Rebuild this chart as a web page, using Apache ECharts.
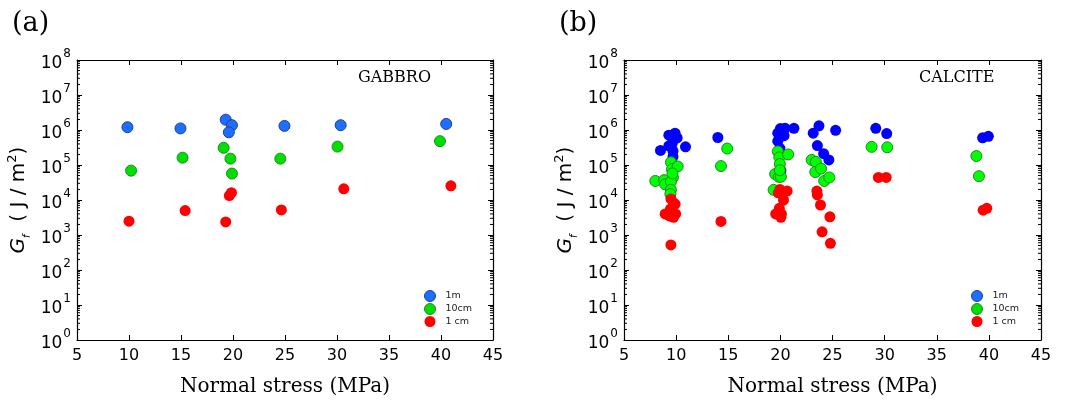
<!DOCTYPE html>
<html><head><meta charset="utf-8">
<script src="https://cdn.jsdelivr.net/npm/echarts@6/dist/echarts.min.js"></script>
<style>html,body{margin:0;padding:0;background:#fff}#c{width:1070px;height:402px}</style>
</head><body><div id="c"></div>
<script>
// ---------- data ----------
const xTicks = [5, 10, 15, 20, 25, 30, 35, 40, 45];
const yTickExponents = [0, 1, 2, 3, 4, 5, 6, 7, 8];
const seriesNames = ['1m', '10cm', '1 cm'];
const panelLabels = ['(a)', '(b)'];
const rockNames = ['GABBRO', 'CALCITE'];
const xAxisTitle = 'Normal stress (MPa)';

// GABBRO [normal stress MPa, Gf J/m2]
const gabbro1m = [[9.85,1.2e6],[14.95,1.11e6],[19.3,1.97e6],[19.9,1.37e6],[19.6,8.6e5],[24.95,1.31e6],[30.35,1.37e6],[40.5,1.49e6]];
const gabbro10cm = [[10.2,6.9e4],[15.15,1.62e5],[19.1,3.1e5],[19.75,1.52e5],[19.9,5.7e4],[24.55,1.52e5],[30.05,3.36e5],[39.9,4.8e5]];
const gabbro1cm = [[10.0,2.48e3],[15.4,5.0e3],[19.3,2.37e3],[19.65,1.34e4],[19.85,1.62e4],[24.65,5.2e3],[30.65,2.09e4],[40.95,2.54e4]];

// CALCITE
const calcite1m = [[8.5,2.6e5],[9.3,7.1e5],[9.9,8.1e5],[10.1,6.0e5],[9.7,4.8e5],[9.3,3.5e5],[9.7,2.5e5],[9.7,1.74e5],[10.9,3.3e5],[9.6,3.9e5],
  [14.0,6.1e5],
  [19.75,8.1e5],[20.0,1.1e6],[20.45,1.12e6],[21.3,1.12e6],[20.35,6.9e5],[19.75,4.8e5],[19.95,3.0e5],[20.05,7.0e4],
  [23.15,8.1e5],[23.7,1.32e6],[25.3,9.8e5],[23.55,3.6e5],[24.15,2.1e5],[24.65,1.4e5],
  [29.15,1.12e6],[30.2,7.9e5],
  [39.4,6.0e5],[39.95,6.6e5]];
const calcite10cm = [[8.0,3.5e4],[8.85,3.7e4],[8.95,2.8e4],[9.5,1.2e5],[9.6,7.6e4],[9.7,4.4e4],[9.5,3.3e4],[9.5,1.95e4],[9.45,1.48e4],[10.15,9.1e4],[9.65,5.75e4],
  [14.3,9.3e4],[14.9,2.95e5],
  [19.75,2.45e5],[19.9,1.66e5],[19.95,1.07e5],[19.5,5.5e4],[19.85,4.6e4],[20.05,4.6e4],[19.35,1.95e4],[20.75,2.0e5],[19.95,7.1e4],
  [23.0,1.4e5],[23.4,1.23e5],[23.35,6.3e4],[23.9,7.9e4],[24.2,3.5e4],[24.7,4.4e4],
  [28.75,3.3e5],[30.25,3.2e5],
  [38.8,1.8e5],[39.05,4.8e4]];
const calcite1cm = [[9.5,1.07e4],[9.75,8.3e3],[9.9,7.6e3],[8.95,4.0e3],[9.35,3.5e3],[9.75,3.2e3],[9.95,4.0e3],[9.45,5.5e3],[9.5,5.2e2],
  [14.3,2.45e3],
  [19.95,2.0e4],[19.8,1.6e4],[20.65,1.8e4],[20.3,1.0e4],[19.9,5.8e3],[19.55,4.0e3],[20.05,3.2e3],[20.1,4.0e3],
  [23.5,1.8e4],[23.55,1.4e4],[23.85,7.2e3],[24.75,3.3e3],[24.0,1.23e3],[24.8,5.8e2],
  [29.4,4.4e4],[30.15,4.4e4],
  [39.45,5.1e3],[39.8,5.8e3]];

// ---------- styling ----------
const SANS = 'DejaVu Sans';
const SERIF = 'DejaVu Serif';
const X_MIN = xTicks[0], X_MAX = xTicks[xTicks.length - 1];
const Y_MIN = Math.pow(10, yTickExponents[0]), Y_MAX = Math.pow(10, yTickExponents[yTickExponents.length - 1]);

// minor tick positions for the log axes (2..9 x 10^n)
const minorTickValues = [];
for (let i = 0; i < yTickExponents.length - 1; i++) {
  for (let k = 2; k <= 9; k++) minorTickValues.push([X_MIN, k * Math.pow(10, yTickExponents[i])]);
}

const grids = [
  {left: 77, top: 60, width: 416, height: 288},
  {left: 624, top: 60, width: 417, height: 288}
];

const palette = {
  a: [{color: '#1f6fff', borderColor: '#1a3f9a', borderWidth: 1},
      {color: '#00e000', borderColor: '#1f8a1f', borderWidth: 1},
      {color: '#ff0000', borderColor: '#ff0000', borderWidth: 0}],
  b: [{color: '#0000ff', borderColor: '#0000ff', borderWidth: 0},
      {color: '#00ff00', borderColor: '#1f8a1f', borderWidth: 1},
      {color: '#ff0000', borderColor: '#ff0000', borderWidth: 0}]
};
const legendStyle = [{color: '#1f6fff', borderColor: '#1a3f9a', borderWidth: 1},
                     {color: '#00e000', borderColor: '#1f8a1f', borderWidth: 1},
                     {color: '#ff0000', borderColor: '#ff0000', borderWidth: 0}];

function yLabel(v) {
  const e = Math.round(Math.log10(v));
  return '{b|10}{s|' + e + '}';
}
const yRich = {
  b: {fontSize: 17, fontFamily: SANS, color: '#000', lineHeight: 24, verticalAlign: 'bottom'},
  s: {fontSize: 12, fontFamily: SANS, color: '#000', lineHeight: 24, verticalAlign: 'top', padding: [0, 0, 0, 1]}
};
const nameRich = {
  g: {fontSize: 20, fontFamily: SANS, fontStyle: 'italic', color: '#000', lineHeight: 26},
  sub: {fontSize: 10, fontFamily: SANS, fontStyle: 'italic', color: '#000', lineHeight: 26, verticalAlign: 'bottom'},
  n: {fontSize: 20, fontFamily: SANS, color: '#000', lineHeight: 26},
  sup: {fontSize: 13, fontFamily: SANS, color: '#000', lineHeight: 26, verticalAlign: 'top'}
};

const xAxes = [], yAxes = [];
grids.forEach((g, i) => {
  xAxes.push({
    type: 'value', gridIndex: i, min: X_MIN, max: X_MAX, interval: 5, position: 'bottom',
    axisLine: {lineStyle: {color: '#000', width: 1.2}},
    axisTick: {inside: true, length: 5, lineStyle: {color: '#000'}},
    axisLabel: {fontFamily: SANS, fontSize: 16, color: '#000', margin: 8},
    splitLine: {show: false},
    name: xAxisTitle, nameLocation: 'middle', nameGap: 37,
    nameTextStyle: {fontFamily: SERIF, fontSize: 20, color: '#000'}
  });
  xAxes.push({
    type: 'value', gridIndex: i, min: X_MIN, max: X_MAX, interval: 5, position: 'top',
    axisLine: {lineStyle: {color: '#000', width: 1.2}},
    axisTick: {inside: true, length: 5, lineStyle: {color: '#000'}},
    axisLabel: {show: false}, splitLine: {show: false}
  });
  yAxes.push({
    type: 'log', logBase: 10, gridIndex: i, min: Y_MIN, max: Y_MAX, splitNumber: 8, position: 'left',
    axisLine: {lineStyle: {color: '#000', width: 1.2}},
    axisTick: {inside: true, length: 5, lineStyle: {color: '#000'}},
    axisLabel: {formatter: yLabel, rich: yRich, margin: 6},
    splitLine: {show: false},
    name: '{g|G}{sub|f}{n|  ( J / m}{sup|2}{n|)}', nameLocation: 'middle', nameGap: 45,
    nameTextStyle: {rich: nameRich}
  });
  yAxes.push({
    type: 'log', logBase: 10, gridIndex: i, min: Y_MIN, max: Y_MAX, splitNumber: 8, position: 'right',
    axisLine: {lineStyle: {color: '#000', width: 1.2}},
    axisTick: {inside: true, length: 5, lineStyle: {color: '#000'}},
    axisLabel: {show: false}, splitLine: {show: false}
  });
});

function minorTickSeries(i) {
  return {
    type: 'custom', xAxisIndex: 2 * i, yAxisIndex: 2 * i, silent: true, clip: false, z: 1,
    data: minorTickValues,
    renderItem: function (params, api) {
      const v = api.value(1);
      const pL = api.coord([X_MIN, v]);
      const pR = api.coord([X_MAX, v]);
      const st = {stroke: '#000', lineWidth: 1};
      return {type: 'group', children: [
        {type: 'line', shape: {x1: pL[0], y1: pL[1], x2: pL[0] + 3, y2: pL[1]}, style: st},
        {type: 'line', shape: {x1: pR[0], y1: pR[1], x2: pR[0] - 3, y2: pR[1]}, style: st}
      ]};
    }
  };
}

function scatter(name, data, i, style) {
  return {
    type: 'scatter', name: name, data: data, xAxisIndex: 2 * i, yAxisIndex: 2 * i,
    symbol: 'circle', symbolSize: 11, itemStyle: Object.assign({opacity: 1}, style),
    emphasis: {disabled: true}, z: 3
  };
}

const series = [
  minorTickSeries(0), minorTickSeries(1),
  scatter(seriesNames[0], gabbro1m, 0, palette.a[0]),
  scatter(seriesNames[1], gabbro10cm, 0, palette.a[1]),
  scatter(seriesNames[2], gabbro1cm, 0, palette.a[2]),
  scatter(seriesNames[0], calcite1m, 1, palette.b[0]),
  scatter(seriesNames[1], calcite10cm, 1, palette.b[1]),
  scatter(seriesNames[2], calcite1cm, 1, palette.b[2])
];

const legendData = seriesNames.map((n, k) => ({name: n, icon: 'circle', itemStyle: legendStyle[k]}));
function legendAt(left) {
  return {
    data: legendData, orient: 'vertical', left: left, top: 290, itemWidth: 11, itemHeight: 11, itemGap: 1,
    selectedMode: false, padding: 0,
    textStyle: {fontFamily: SANS, fontSize: 9.5, color: '#222', padding: [0, 0, 0, 5]}
  };
}

const chart = echarts.init(document.getElementById('c'), null, {renderer: 'canvas'});
chart.setOption({
  animation: false,
  backgroundColor: '#fff',
  grid: grids,
  xAxis: xAxes,
  yAxis: yAxes,
  legend: [legendAt(424), legendAt(971)],
  title: [
    {text: panelLabels[0], left: 7, top: 5, textStyle: {fontFamily: SERIF, fontSize: 27, fontWeight: 'normal', color: '#000'}},
    {text: panelLabels[1], left: 554, top: 5, textStyle: {fontFamily: SERIF, fontSize: 27, fontWeight: 'normal', color: '#000'}},
    {text: rockNames[0], left: 353, top: 65, textStyle: {fontFamily: SERIF, fontSize: 16, fontWeight: 'normal', color: '#000'}},
    {text: rockNames[1], left: 914, top: 65, textStyle: {fontFamily: SERIF, fontSize: 16, fontWeight: 'normal', color: '#000'}}
  ],
  series: series
});
</script></body></html>
